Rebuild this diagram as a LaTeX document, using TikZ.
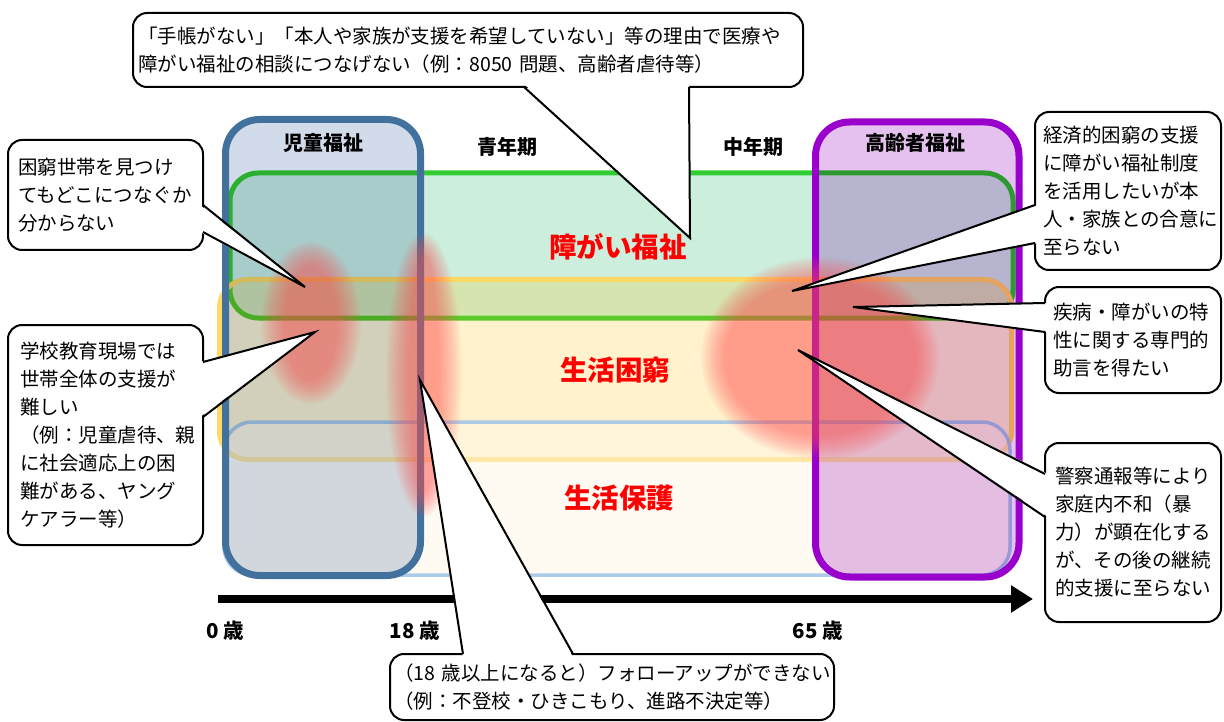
\documentclass[tikz,border=0pt]{standalone}
\usepackage{fontspec}
\setmainfont{Noto Sans CJK JP}
\usetikzlibrary{arrows.meta}
\definecolor{grnline}{HTML}{33CC33}
\definecolor{grnfill}{HTML}{CCEEDD}
\definecolor{yelline}{HTML}{FFD966}
\definecolor{yelfill}{HTML}{FFBF00}
\definecolor{bluline}{HTML}{9DC3E6}
\definecolor{creamfill}{HTML}{FFF8E8}
\definecolor{colblue}{HTML}{41719C}
\definecolor{colbluefill}{HTML}{D2DBEA}
\definecolor{colpur}{HTML}{9900CC}
\definecolor{colpurfill}{HTML}{E4C1EE}
\definecolor{blobred}{HTML}{FF5252}
\newcommand{\fuzzblob}[4]{%
  \foreach \k in {0,...,13}{%
    \fill[blobred, fill opacity=0.05] (#1,#2) ellipse [x radius={(#3+9-1.8*\k)*1pt}, y radius={(#4+9-1.8*\k)*1pt}];
  }}
\tikzset{
  bandbox/.style={rounded corners=28pt},
  colbox/.style={rounded corners=34pt},
  hdr/.style={font=\bfseries\fontsize{20}{24}\selectfont, inner sep=0pt},
  bandlbl/.style={text=red, font=\bfseries\fontsize{27.5}{30}\selectfont, inner sep=0pt},
  agelbl/.style={font=\bfseries\fontsize{20.5}{24}\selectfont, inner sep=0pt},
  callout/.style={draw=black, line width=2pt, fill=white, rounded corners=14pt, align=left, font=\fontsize{19.5}{28}\selectfont, inner ysep=2pt},
  ptr/.style={draw=black, line width=2pt},
}
\begin{document}
\begin{tikzpicture}[x=1pt,y=-1pt]
\useasboundingbox (0,0) rectangle (1224,722);
% bands
\draw[bandbox, draw=grnline, line width=5pt, fill=grnfill] (230,173) rectangle (1013,318);
\draw[bandbox, draw=yelline, line width=5pt, fill=yelfill, fill opacity=0.2] (219.5,279.5) rectangle (1011.5,459.5);
\draw[bandbox, draw=bluline, draw opacity=0.85, line width=3.5pt, fill=creamfill, fill opacity=0.5] (224,422) rectangle (1010,575);
% columns
\begin{scope}[blend mode=multiply]
\fill[colbox, colbluefill] (225.5,119.5) rectangle (420.5,575.5);
\fill[colbox, colpurfill] (815.5,122) rectangle (1019,577);
\end{scope}
\draw[colbox, colblue, line width=7pt] (225.5,119.5) rectangle (420.5,575.5);
\draw[colbox, colpur, line width=7pt] (815.5,122) rectangle (1019,577);
% red blurred areas
\fuzzblob{311}{323}{41}{72}
\fuzzblob{424}{375}{29}{133}
\fuzzblob{820}{358}{110}{92}
% labels
\node[hdr] (h1) at (323,143) {児童福祉};
\node[hdr] (h2) at (507,147) {青年期};
\node[hdr] (h3) at (753,147) {中年期};
\node[hdr] (h4) at (915,143) {高齢者福祉};
\node[bandlbl] (b1) at (618,247) {障がい福祉};
\node[bandlbl] (b2) at (615,370) {生活困窮};
\node[bandlbl] (b3) at (619,498) {生活保護};
% axis
\coordinate (ax0) at (218,599);
\coordinate (ax1) at (1033,599);
\draw[line width=8pt, -{Triangle[length=22pt,width=26pt]}] (ax0) -- (ax1);
\node[agelbl] (a0) at (225,631) {0 歳};
\node[agelbl] (a18) at (415,631) {18 歳};
\node[agelbl] (a65) at (818,631) {65 歳};
% top callout
\node[callout, text width=660pt, inner xsep=5pt, minimum height=74pt] (ct) at (468,50) {「手帳がない」「本人や家族が支援を希望していない」等の理由で医療や\\障がい福祉の相談につなげない（例：8050 問題、高齢者虐待等）};
\coordinate (ctt) at (690,238);
\coordinate (cta) at (524,87);
\coordinate (ctb) at (689,87);
\fill[white] ([yshift=3pt]cta) -- (ctt) -- ([yshift=3pt]ctb) -- cycle;
\draw[ptr] (cta) -- (ctt) -- (ctb);
% left callout 1
\node[callout, text width=175pt, inner xsep=10pt, minimum height=110pt] (cl1) at (105.5,195) {困窮世帯を見つけ\\てもどこにつなぐか\\分からない};
\coordinate (cl1t) at (305,287);
\coordinate (cl1a) at (203,205);
\coordinate (cl1b) at (203,232);
\fill[white] ([xshift=-3pt]cl1a) -- (cl1t) -- ([xshift=-3pt]cl1b) -- cycle;
\draw[ptr] (cl1a) -- (cl1t) -- (cl1b);
% left callout 2
\node[callout, text width=171pt, inner xsep=12pt, minimum height=220pt] (cl2) at (105.5,435) {学校教育現場では\\世帯全体の支援が\\難しい\\（例：児童虐待、親\\に社会適応上の困\\難がある、ヤング\\ケアラー等）};
\coordinate (cl2t) at (315,332);
\coordinate (cl2a) at (203,362);
\coordinate (cl2b) at (203,417);
\fill[white] ([xshift=-3pt]cl2a) -- (cl2t) -- ([xshift=-3pt]cl2b) -- cycle;
\draw[ptr] (cl2a) -- (cl2t) -- (cl2b);
% right callout 1
\node[callout, text width=170pt, inner xsep=8pt, minimum height=158pt] (cr1) at (1128,191) {経済的困窮の支援\\に障がい福祉制度\\を活用したいが本\\人・家族との合意に\\至らない};
\coordinate (cr1t) at (792,291);
\coordinate (cr1a) at (1035,205);
\coordinate (cr1b) at (1035,243);
\fill[white] ([xshift=3pt]cr1a) -- (cr1t) -- ([xshift=3pt]cr1b) -- cycle;
\draw[ptr] (cr1a) -- (cr1t) -- (cr1b);
% right callout 2
\node[callout, text width=160pt, inner xsep=8pt, minimum height=106pt] (cr2) at (1133,340) {疾病・障がいの特\\性に関する専門的\\助言を得たい};
\coordinate (cr2t) at (853,307);
\coordinate (cr2a) at (1045,303);
\coordinate (cr2b) at (1045,332);
\fill[white] ([xshift=3pt]cr2a) -- (cr2t) -- ([xshift=3pt]cr2b) -- cycle;
\draw[ptr] (cr2a) -- (cr2t) -- (cr2b);
% right callout 3
\node[callout, text width=156pt, inner xsep=10pt, minimum height=179pt] (cr3) at (1133,532.5) {警察通報等により\\家庭内不和（暴\\力）が顕在化する\\が、その後の継続\\的支援に至らない};
\coordinate (cr3t) at (798,350);
\coordinate (cr3a) at (1045,474);
\coordinate (cr3b) at (1045,517);
\fill[white] ([xshift=3pt]cr3a) -- (cr3t) -- ([xshift=3pt]cr3b) -- cycle;
\draw[ptr] (cr3a) -- (cr3t) -- (cr3b);
% bottom callout
\node[callout, text width=436pt, inner xsep=4pt, minimum height=66pt] (cb) at (612,687) {（18 歳以上になると）フォローアップができない\\（例：不登校・ひきこもり、進路不決定等）};
\coordinate (cbt) at (420,380);
\coordinate (cba) at (463,654);
\coordinate (cbb) at (573,654);
\fill[white] ([yshift=-3pt]cba) -- (cbt) -- ([yshift=-3pt]cbb) -- cycle;
\draw[ptr] (cba) -- (cbt) -- (cbb);
\end{tikzpicture}
\end{document}
